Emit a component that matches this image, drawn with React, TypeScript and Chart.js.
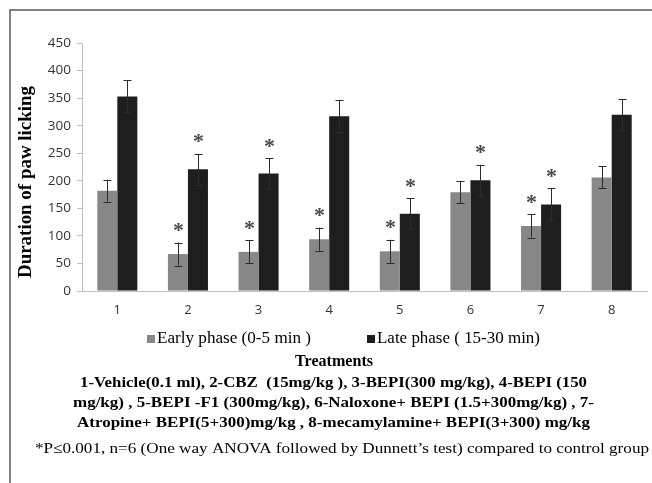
import { useEffect, useRef } from "react";
import { Chart, registerables } from "chart.js";

Chart.register(...registerables);

const categories = ["1", "2", "3", "4", "5", "6", "7", "8"];
const earlyPhase = [182, 67, 71, 94, 72, 179, 118, 206];
const earlyError = [20, 21, 21, 21, 21, 20, 21, 20];
const latePhase = [353, 221, 213, 317, 140, 201, 157, 320];
const lateError = [29, 28, 28, 29, 28, 28, 29, 28];
const earlySignificant = [false, true, true, true, true, false, true, false];
const lateSignificant = [false, true, true, false, true, true, true, false];
const seriesLabels = ["Early phase (0-5 min )", "Late phase ( 15-30 min)"];
const yMin = 0;
const yMax = 450;
const yStep = 50;
const yAxisTitle = "Duration of paw licking";
const xAxisTitle = "Treatments";
const treatmentLines = [
  "1-Vehicle(0.1 ml), 2-CBZ  (15mg/kg ), 3-BEPI(300 mg/kg), 4-BEPI (150",
  "mg/kg) , 5-BEPI -F1 (300mg/kg), 6-Naloxone+ BEPI (1.5+300mg/kg) , 7-",
  "Atropine+ BEPI(5+300)mg/kg , 8-mecamylamine+ BEPI(3+300) mg/kg",
];
const footnote =
  "*P\u22640.001, n=6 (One way ANOVA followed by Dunnett\u2019s test) compared to control group";

const SERIF = '"Liberation Serif", "Times New Roman", serif';
const GRAY = "#878787";
const BLACK = "#1e1e1e";

function fitText(
  ctx: CanvasRenderingContext2D,
  text: string,
  x: number,
  y: number,
  font: string,
  width: number,
  align: "left" | "center"
) {
  ctx.save();
  ctx.font = font;
  ctx.textBaseline = "middle";
  ctx.textAlign = align;
  const w = ctx.measureText(text).width;
  ctx.translate(x, y);
  ctx.scale(width / w, 1);
  ctx.fillText(text, 0, 0);
  ctx.restore();
}

const errorBarPlugin = {
  id: "errorBars",
  afterDatasetsDraw(chart: any) {
    const ctx: CanvasRenderingContext2D = chart.ctx;
    const ys = chart.scales.y;
    chart.data.datasets.forEach((ds: any, di: number) => {
      const meta = chart.getDatasetMeta(di);
      meta.data.forEach((bar: any, i: number) => {
        const v = ds.data[i];
        const e = ds.errors[i];
        const top = ys.getPixelForValue(v + e);
        const bot = ys.getPixelForValue(v - e);
        const x = Math.round(bar.x) + 0.5;
        ctx.save();
        ctx.strokeStyle = "#2b2b2b";
        ctx.lineWidth = 1;
        ctx.beginPath();
        ctx.moveTo(x, top);
        ctx.lineTo(x, bot);
        ctx.moveTo(x - 4, Math.round(top) + 0.5);
        ctx.lineTo(x + 4, Math.round(top) + 0.5);
        ctx.moveTo(x - 4, Math.round(bot) + 0.5);
        ctx.lineTo(x + 4, Math.round(bot) + 0.5);
        ctx.stroke();
        if (ds.significant[i]) {
          ctx.font = "bold 22px " + SERIF;
          ctx.fillStyle = "#4a4a4a";
          ctx.textAlign = "center";
          ctx.textBaseline = "alphabetic";
          const m = ctx.measureText("*");
          const cy = top - 15;
          const base = cy + (m.actualBoundingBoxAscent - m.actualBoundingBoxDescent) / 2;
          ctx.fillText("*", x, base);
        }
        ctx.restore();
      });
    });
  },
};

const decorPlugin = {
  id: "decor",
  beforeDraw(chart: any) {
    const ctx: CanvasRenderingContext2D = chart.ctx;
    ctx.save();
    ctx.fillStyle = "#ffffff";
    ctx.fillRect(0, 0, chart.width, chart.height);
    ctx.strokeStyle = "#5a5a5a";
    ctx.lineWidth = 1.5;
    ctx.beginPath();
    ctx.moveTo(10, chart.height);
    ctx.lineTo(10, 10);
    ctx.lineTo(chart.width, 10);
    ctx.stroke();
    ctx.restore();
  },
  afterDraw(chart: any) {
    const ctx: CanvasRenderingContext2D = chart.ctx;
    ctx.save();
    ctx.fillStyle = "#000000";
    // y axis title
    ctx.save();
    ctx.translate(26, 182);
    ctx.rotate(-Math.PI / 2);
    fitText(ctx, yAxisTitle, 0, 0, "bold 18px " + SERIF, 192, "center");
    ctx.restore();
    // legend
    const legendX = [147, 367];
    const legendW = [154, 163];
    chart.data.datasets.forEach((ds: any, i: number) => {
      ctx.fillStyle = ds.backgroundColor;
      ctx.fillRect(legendX[i], 335, 8, 8);
      ctx.fillStyle = "#000000";
      fitText(ctx, ds.label, legendX[i] + 10, 339, "17px " + SERIF, legendW[i], "left");
    });
    // x axis title
    fitText(ctx, xAxisTitle, 334, 362, "bold 16px " + SERIF, 78, "center");
    const lineW = [507, 521, 513];
    const lineY = [383, 403, 423];
    treatmentLines.forEach((t, i) => {
      fitText(ctx, t, 333.5, lineY[i], "bold 15px " + SERIF, lineW[i], "center");
    });
    fitText(ctx, footnote, 342, 449, "15px " + SERIF, 614, "center");
    ctx.restore();
  },
};

export default function App() {
  const ref = useRef<HTMLCanvasElement | null>(null);
  useEffect(() => {
    if (!ref.current) return;
    const chart = new Chart(ref.current, {
      type: "bar",
      data: {
        labels: categories,
        datasets: [
          {
            label: seriesLabels[0],
            data: earlyPhase,
            backgroundColor: GRAY,
            borderWidth: 0,
            categoryPercentage: 0.567,
            barPercentage: 1,
            errors: earlyError,
            significant: earlySignificant,
          } as any,
          {
            label: seriesLabels[1],
            data: latePhase,
            backgroundColor: BLACK,
            borderWidth: 0,
            categoryPercentage: 0.567,
            barPercentage: 1,
            errors: lateError,
            significant: lateSignificant,
          } as any,
        ],
      },
      options: {
        animation: false,
        responsive: false,
        devicePixelRatio: 1,
        layout: { padding: { left: 10, right: 5, top: 43, bottom: 162 } },
        plugins: {
          legend: { display: false },
          tooltip: { enabled: false },
        },
        scales: {
          x: {
            grid: { display: false },
            border: { display: true, color: "#bfbfbf", width: 1 },
            ticks: {
              color: "#333333",
              font: { family: '"Open Sans", sans-serif', size: 13 },
              padding: 3,
            },
            afterFit(scale: any) {
              scale.height = 30;
            },
          },
          y: {
            min: yMin,
            max: yMax,
            ticks: {
              stepSize: yStep,
              color: "#333333",
              font: { family: '"Open Sans", sans-serif', size: 13.5 },
              padding: 6,
            },
            grid: {
              display: true,
              drawOnChartArea: false,
              drawTicks: true,
              tickLength: 5,
              color: "#bfbfbf",
            },
            border: { display: true, color: "#bfbfbf", width: 1 },
            afterFit(scale: any) {
              scale.width = 72;
            },
          },
        },
      } as any,
      plugins: [decorPlugin, errorBarPlugin],
    });
    return () => chart.destroy();
  }, []);
  return (
    <div style={{ position: "fixed", left: 0, top: 0, width: 652, height: 483 }}>
      <canvas ref={ref} width={652} height={483} style={{ width: 652, height: 483 }} />
    </div>
  );
}
